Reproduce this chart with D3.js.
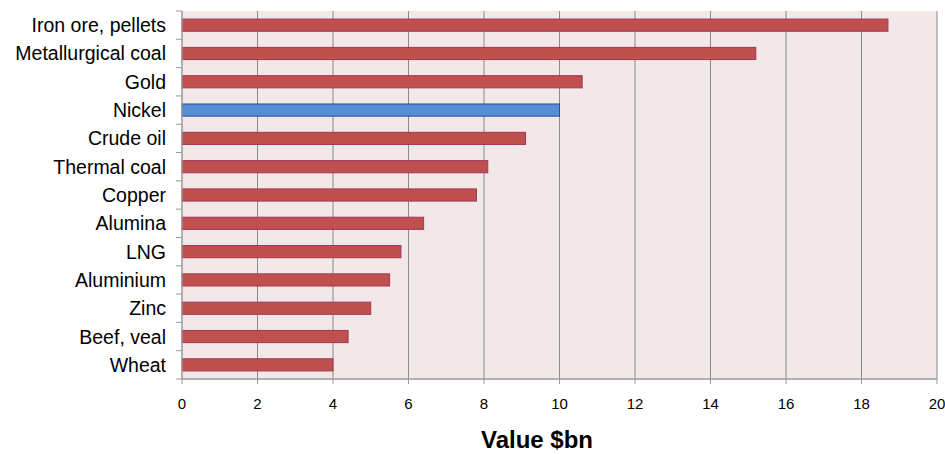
<!DOCTYPE html>
<meta charset="utf-8">
<style>
body { margin: 0; background: #fff; }
text { font-family: "Liberation Sans", Arial, sans-serif; fill: #000; }
</style>
<svg width="945" height="454"></svg>
<script src="https://d3js.org/d3.v7.min.js"></script>
<script>

var categories = ["Iron ore, pellets", "Metallurgical coal", "Gold", "Nickel", "Crude oil",
    "Thermal coal", "Copper", "Alumina", "LNG", "Aluminium", "Zinc", "Beef, veal", "Wheat"];
var values = [18.7, 15.2, 10.6, 10.0, 9.1, 8.1, 7.8, 6.4, 5.8, 5.5, 5.0, 4.4, 4.0];
var highlight = ["Nickel"];
var xTicks = [0, 2, 4, 6, 8, 10, 12, 14, 16, 18, 20];

var svg = d3.select("svg");
var pLeft = 182, pRight = 937, pTop = 11, pBottom = 379;

var x = d3.scaleLinear().domain([0, 20]).range([pLeft, pRight]);
var y = d3.scaleBand().domain(categories).range([pTop, pBottom]).paddingInner(0.57).paddingOuter(0.285);

svg.append("rect")
    .attr("x", pLeft).attr("y", pTop)
    .attr("width", pRight - pLeft).attr("height", pBottom - pTop)
    .attr("fill", "#f2e8e8");

// vertical gridlines
svg.append("g").selectAll("line")
    .data(xTicks.slice(1))
    .enter().append("line")
      .attr("x1", function(d) { return x(d); })
      .attr("x2", function(d) { return x(d); })
      .attr("y1", pTop).attr("y2", pBottom)
      .attr("stroke", "#8a8a8a").attr("stroke-width", 1);

// bars
var data = categories.map(function(c, i) { return { name: c, value: values[i] }; });
svg.append("g").selectAll("rect")
    .data(data)
    .enter().append("rect")
      .attr("x", x(0))
      .attr("y", function(d) { return y(d.name); })
      .attr("width", function(d) { return x(d.value) - x(0); })
      .attr("height", y.bandwidth())
      .attr("fill", function(d) { return highlight.indexOf(d.name) >= 0 ? "#558ed5" : "#c0504d"; })
      .attr("stroke", function(d) { return highlight.indexOf(d.name) >= 0 ? "#2d49a5" : "#a3365a"; })
      .attr("stroke-width", 1);

// y axis: line + ticks at band boundaries
var yAxis = svg.append("g");
yAxis.append("line")
    .attr("x1", pLeft).attr("x2", pLeft).attr("y1", pTop).attr("y2", pBottom)
    .attr("stroke", "#999").attr("stroke-width", 1.5);
var step = y.step();
yAxis.selectAll(".tk")
    .data(d3.range(categories.length + 1))
    .enter().append("line")
      .attr("x1", pLeft - 6).attr("x2", pLeft)
      .attr("y1", function(i) { return pTop + i * step; })
      .attr("y2", function(i) { return pTop + i * step; })
      .attr("stroke", "#999").attr("stroke-width", 1);
yAxis.selectAll("text")
    .data(categories)
    .enter().append("text")
      .attr("x", pLeft - 16)
      .attr("y", function(d) { return y(d) + y.bandwidth() / 2; })
      .attr("dy", "0.36em")
      .attr("text-anchor", "end")
      .style("font-size", "19.5px")
      .text(function(d) { return d; });

// x axis
var xAxis = svg.append("g");
xAxis.append("line")
    .attr("x1", pLeft).attr("x2", pRight).attr("y1", pBottom).attr("y2", pBottom)
    .attr("stroke", "#999").attr("stroke-width", 1.5);
xAxis.selectAll(".tk")
    .data(xTicks)
    .enter().append("line")
      .attr("x1", function(d) { return x(d); })
      .attr("x2", function(d) { return x(d); })
      .attr("y1", pBottom).attr("y2", pBottom + 5)
      .attr("stroke", "#999");
xAxis.selectAll("text")
    .data(xTicks)
    .enter().append("text")
      .attr("x", function(d) { return x(d); })
      .attr("y", 409)
      .attr("text-anchor", "middle")
      .style("font-size", "15px")
      .text(function(d) { return d; });

svg.append("text")
    .attr("x", 537).attr("y", 448)
    .attr("text-anchor", "middle")
    .style("font-size", "24px")
    .style("font-weight", "bold")
    .text("Value $bn");

</script>
